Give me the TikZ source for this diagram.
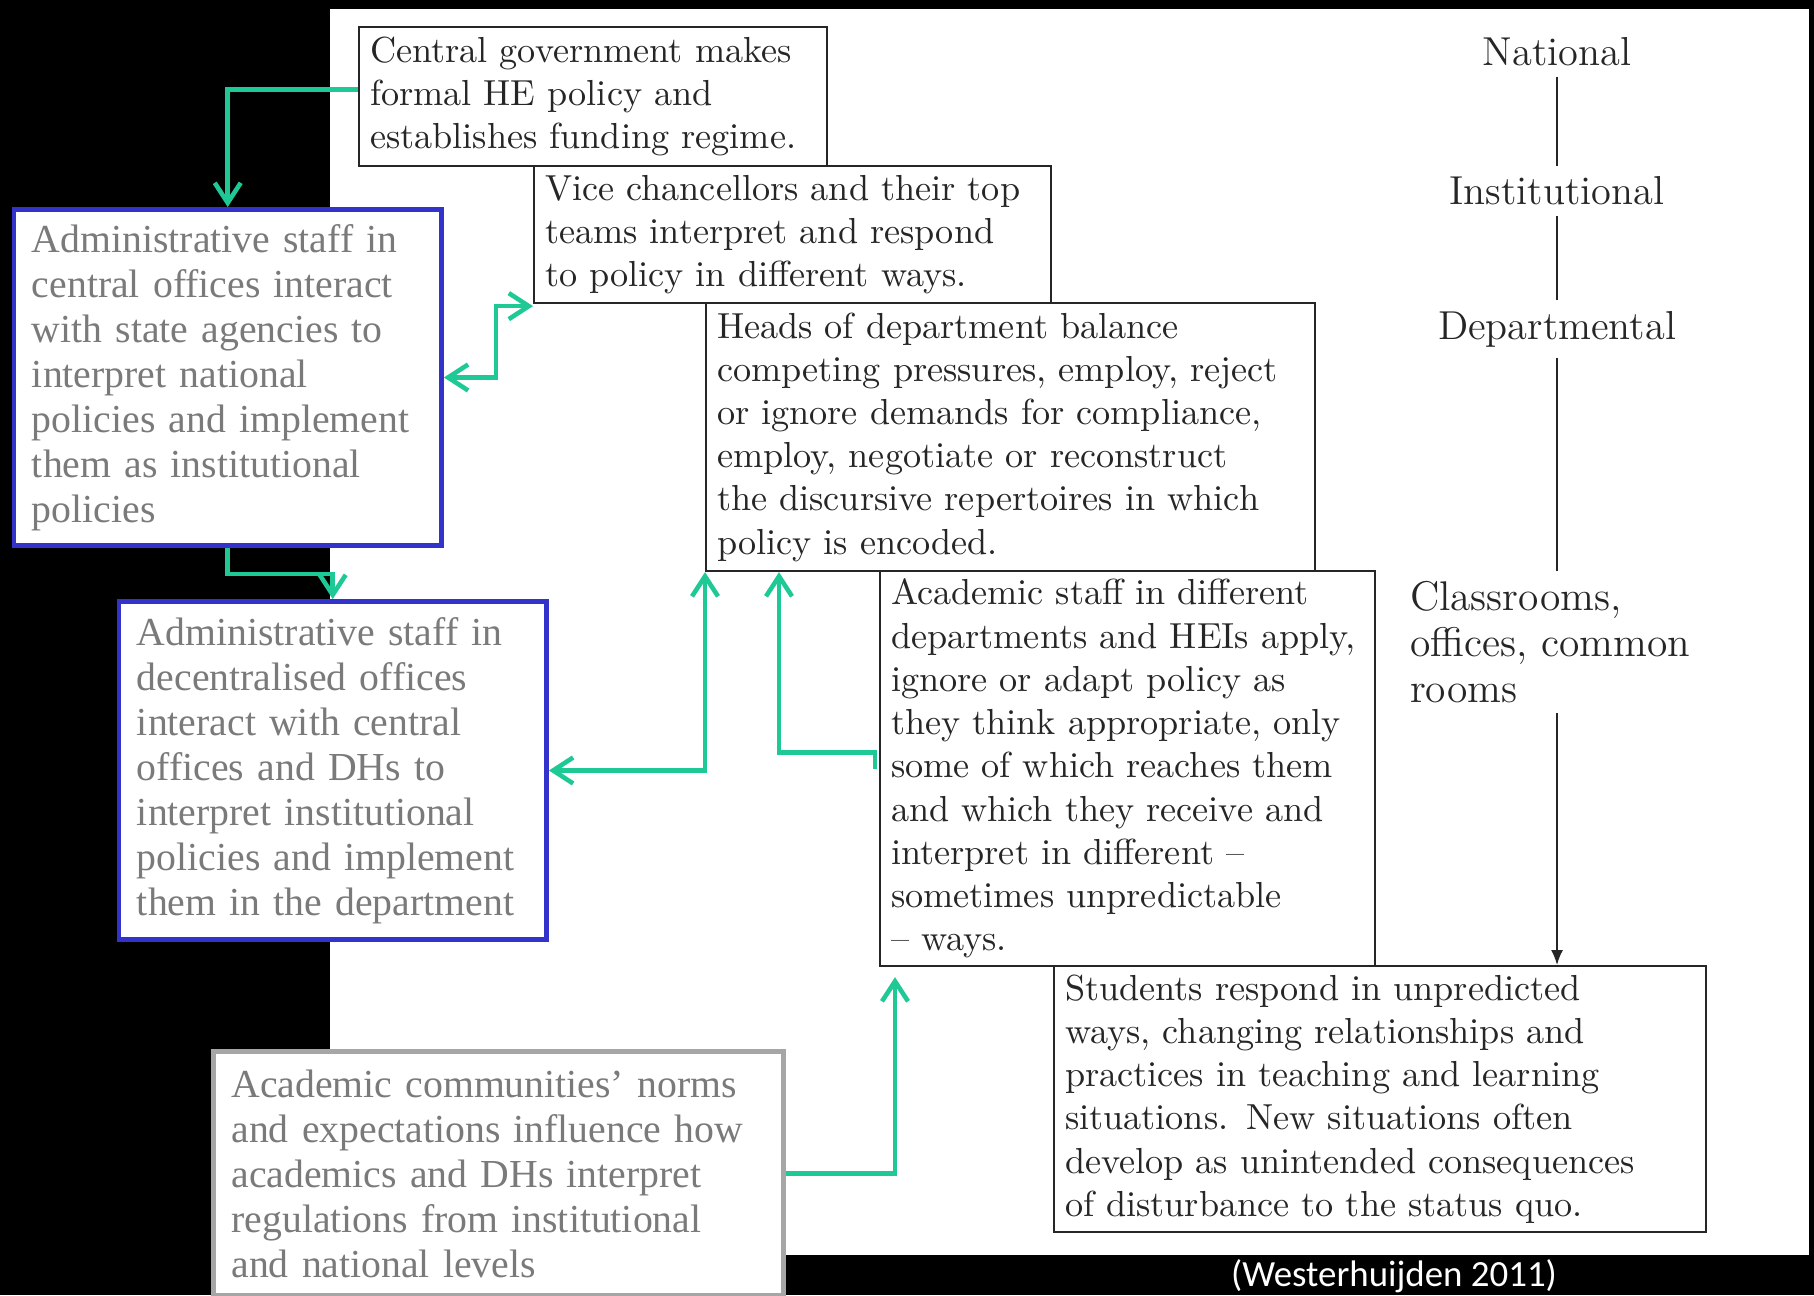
\documentclass[tikz,border=0pt]{standalone}
\usepackage{fontspec}
\newfontfamily\calloutfont{Liberation Serif}
\newfontfamily\citefont{Carlito}
\usepackage{xcolor}
\usepackage{tikz}
\usetikzlibrary{arrows.meta, calc}
\definecolor{flow-green}{RGB}{30,201,150}
\definecolor{callout-blue}{RGB}{51,51,204}
\definecolor{callout-gray}{RGB}{166,166,166}
\definecolor{text-gray}{RGB}{122,122,122}
\definecolor{ink}{gray}{.15}
\tikzstyle{stage} = [rectangle, anchor=north west, draw=ink, line width=0.6pt, fill=white,
    text=ink, align=left, inner xsep=0.11cm, inner ysep=0.04cm, font=\fontsize{10.3}{12.3}\selectfont]
\tikzstyle{callout} = [rectangle, anchor=north west, draw=callout-blue, line width=1.4pt, fill=white,
    text=text-gray, align=left, inner xsep=0.18cm, inner ysep=0.08cm, font=\calloutfont\fontsize{11.3}{12.8}\selectfont]
\tikzstyle{level} = [text=ink, inner sep=0.1cm, font=\fontsize{11.5}{13}\selectfont]
\tikzstyle{rung} = [line width=0.5pt, draw=ink]
\tikzstyle{arrow} = [line width=1.3pt, draw=flow-green, -{Straight Barb[length=2mm, width=2.6mm]}]
\tikzstyle{biarrow} = [line width=1.3pt, draw=flow-green,
    {Straight Barb[length=2mm, width=2.6mm]}-{Straight Barb[length=2mm, width=2.6mm]}]

\begin{document}
\begin{tikzpicture}

    % ===============================
    % 0. BACKGROUND
    % ===============================
    \useasboundingbox (0,0) rectangle (18.14,-12.95);
    \fill[black] (0,0) rectangle (18.14,-12.95);
    \fill[white] (3.30,-0.09) rectangle (18.09,-12.55);

    % ===============================
    % 1. NODES
    % ===============================

    % Cascade of stages (original figure)
    \node[stage, text width=4.455cm, minimum height=1.39cm] (govt) at (3.58,-0.26) {
        Central government makes\\formal HE policy and\\establishes funding regime.
    };
    \node[stage, text width=4.95cm, minimum height=1.37cm] (vice) at (5.33,-1.65) {
        Vice chancellors and their top\\teams interpret and respond\\to policy in different ways.
    };
    \node[stage, text width=5.87cm, minimum height=2.68cm] (heads) at (7.05,-3.02) {
        Heads of department balance\\competing pressures, employ, reject\\or ignore demands for compliance,\\employ, negotiate or reconstruct\\the discursive repertoires in which\\policy is encoded.
    };
    \node[stage, text width=4.73cm, minimum height=3.95cm] (acad) at (8.79,-5.70) {
        Academic staff in different\\departments and HEIs apply,\\ignore or adapt policy as\\they think appropriate, only\\some of which reaches them\\and which they receive and\\interpret in different --\\sometimes unpredictable\\-- ways.
    };
    \node[stage, text width=6.30cm, minimum height=2.66cm] (students) at (10.53,-9.65) {
        Students respond in unpredicted\\ways, changing relationships and\\practices in teaching and learning\\situations. New situations often\\develop as unintended consequences\\of disturbance to the status quo.
    };

    % -------------------------------
    % LEVELS (right column)
    % -------------------------------
    \node[level] (national) at (15.57,-0.52) {National};
    \node[level] (institutional) at (15.57,-1.91) {Institutional};
    \node[level] (departmental) at (15.57,-3.29) {Departmental};
    \node[level, align=left, font=\fontsize{11.8}{13}\selectfont] (classrooms) at (15.50,-6.42) {
        Classrooms,\\offices, common\\rooms
    };

    % -------------------------------
    % CALLOUTS (left)
    % -------------------------------
    \node[callout, text width=3.915cm, minimum height=3.36cm] (adminc) at (0.115,-2.07) {
        Administrative staff in\\central offices interact\\with state agencies to\\interpret national\\policies and implement\\them as institutional\\policies
    };
    \node[callout, text width=3.915cm, minimum height=3.38cm] (admind) at (1.165,-5.99) {
        Administrative staff in\\decentralised offices\\interact with central\\offices and DHs to\\interpret institutional\\policies and implement\\them in the department
    };
    \node[callout, draw=callout-gray, text width=5.34cm, minimum height=2.44cm] (acadc) at (2.11,-10.49) {
        Academic communities’ norms\\and expectations influence how\\academics and DHs interpret\\regulations from institutional\\and national levels
    };

    \node[text=white, anchor=south, inner sep=0pt, font=\citefont\fontsize{10.5}{12}\selectfont] (cite) at (13.94,-12.93) {
        (Westerhuijden 2011)
    };

    % ===============================
    % 2. CONNECTIONS
    % ===============================

    % Level column
    \draw[rung] (national) -- (institutional);
    \draw[rung] (institutional) -- (departmental);
    \draw[rung] (departmental) -- (departmental |- classrooms.north);
    \draw[rung, -{Latex[length=1.5mm, width=1.2mm]}] (departmental |- classrooms.south) -- (departmental |- students.north);

    % Helper points on box edges
    \coordinate (hdin) at ($(heads.south west)+(0.74,0)$);
    \coordinate (acin) at ($(acad.south west)+(0.16,-0.10)$);

    % Green links
    \draw[arrow] ([yshift=0.07cm]govt.west) -| (adminc.north);
    \draw[biarrow] (adminc.east) -- ++(0.52,0) |- ([yshift=-0.02cm]vice.south west);
    \draw[arrow] (adminc.south) -- ++(0,-0.26) -| (admind.north);
    \draw[biarrow] (admind.east) -| (heads.south west);
    \draw[arrow] ([xshift=-0.04cm]acad.west) -- ++(0,0.16) -| (hdin);
    \draw[arrow] (acadc.east) -| (acin);

\end{tikzpicture}
\end{document}
